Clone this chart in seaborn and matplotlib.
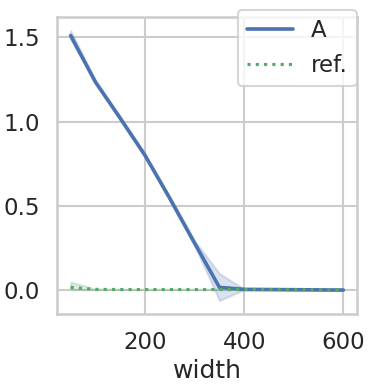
import matplotlib
matplotlib.use("Agg")
import matplotlib.pyplot as plt
import seaborn as sns
import pandas as pd

widths = [50, 100, 150, 200, 250, 300, 350, 400, 450, 500, 550, 600]
a_mid = [1.51, 1.235, 1.02, 0.80, 0.545, 0.28, 0.018, 0.006, 0.005, 0.004, 0.003, 0.002]
a_lo = [1.49, 1.225, 1.01, 0.79, 0.535, 0.265, -0.06, 0.004, 0.004, 0.003, 0.002, 0.001]
a_hi = [1.54, 1.245, 1.03, 0.81, 0.555, 0.295, 0.10, 0.008, 0.006, 0.005, 0.004, 0.003]
ref_mid = [0.018, 0.006, 0.005, 0.005, 0.005, 0.005, 0.005, 0.005, 0.005, 0.004, 0.004, 0.004]
ref_lo = [0.005, 0.004, 0.004, 0.004, 0.004, 0.004, 0.004, 0.004, 0.004, 0.003, 0.003, 0.003]
ref_hi = [0.05, 0.008, 0.006, 0.006, 0.006, 0.006, 0.006, 0.006, 0.006, 0.005, 0.005, 0.005]

rows = []
for name, lo, mid, hi in [("A", a_lo, a_mid, a_hi), ("ref.", ref_lo, ref_mid, ref_hi)]:
    for w, l, m, h in zip(widths, lo, mid, hi):
        for v in (l, m, h):
            rows.append({"width": w, "value": v, "series": name})
df = pd.DataFrame(rows)

sns.set_theme(context="talk", style="whitegrid")
plt.rcParams["xtick.major.pad"] = 3
plt.rcParams["ytick.major.pad"] = 3
fig = plt.figure(figsize=(3.74, 3.88), dpi=100)
ax = fig.add_axes([57 / 374, 1 - 314 / 388, 300 / 374, 297 / 388])

pal = sns.color_palette("deep")
sns.lineplot(data=df[df.series == "A"], x="width", y="value", estimator="median",
             errorbar=lambda s: (s.min(), s.max()), color=pal[0], lw=2.6, label="A", ax=ax)
sns.lineplot(data=df[df.series == "ref."], x="width", y="value", estimator="median",
             errorbar=lambda s: (s.min(), s.max()), color=pal[2], lw=2.25, ls=":", label="ref.", ax=ax)

ax.set_xticks([200, 400, 600])
ax.set_yticks([0.0, 0.5, 1.0, 1.5])
ax.set_ylabel("")
ax.set_xlabel("width")
ax.legend(loc="upper right", bbox_to_anchor=(1.0, 1 + 7 / 297), borderaxespad=0)
fig.savefig("out.png", dpi=100)
